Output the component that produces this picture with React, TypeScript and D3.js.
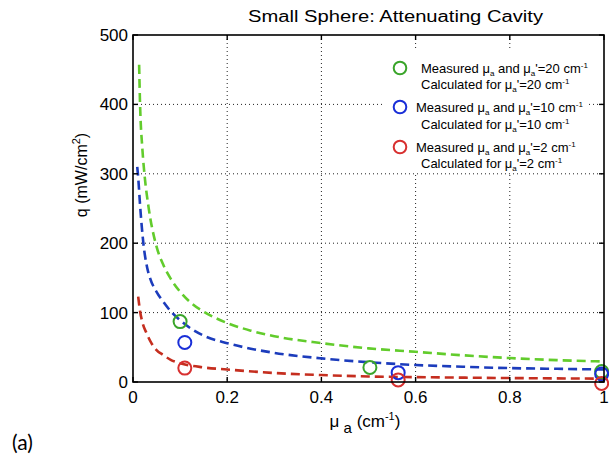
import React from "react";
import * as d3 from "d3";

// Calculated fluence curves (μa in cm⁻¹, q in mW/cm²)
const greenCurveMu = [0.013, 0.015, 0.02, 0.025, 0.033, 0.05, 0.065, 0.079, 0.1, 0.125, 0.156, 0.2, 0.25, 0.3, 0.4, 0.5, 0.6, 0.7, 0.8, 0.9, 1.0];
const greenCurveQ = [457, 400, 335, 295, 252, 195, 168, 150, 130, 113, 99, 85, 74, 66, 56, 48.5, 43.5, 38.5, 34.5, 31.5, 29.5];

const blueCurveMu = [0.009, 0.011, 0.015, 0.022, 0.03, 0.036, 0.05, 0.064, 0.08, 0.1, 0.125, 0.156, 0.2, 0.25, 0.3, 0.4, 0.5, 0.6, 0.7, 0.8, 0.9, 1.0];
const blueCurveQ = [310, 295, 255, 200, 165, 150, 130, 116, 102, 89, 76, 65, 56, 48, 42, 34, 28.5, 24.5, 22, 20, 19, 18];

const redCurveMu = [0.011, 0.015, 0.02, 0.029, 0.04, 0.05, 0.064, 0.08, 0.1, 0.15, 0.2, 0.3, 0.4, 0.5, 0.6, 0.7, 0.8, 0.9, 1.0];
const redCurveQ = [123, 102, 86, 70, 55, 46, 39, 32, 27, 21, 18, 13, 10, 8, 7, 6.3, 5.7, 5.2, 4.8];

// Measured points
const greenMeasMu = [0.1, 0.503, 0.995];
const greenMeasQ = [87, 21, 15];
const blueMeasMu = [0.11, 0.563, 0.995];
const blueMeasQ = [57, 13.5, 11.5];
const redMeasMu = [0.11, 0.563, 0.995];
const redMeasQ = [20, 3, -2];

const xTicks = [0, 0.2, 0.4, 0.6, 0.8, 1];
const yTicks = [0, 100, 200, 300, 400, 500];
const xTickLabels = ["0", "0.2", "0.4", "0.6", "0.8", "1"];
const yTickLabels = ["0", "100", "200", "300", "400", "500"];

const legendValues = ["20", "10", "2"];

const W = 609;
const H = 461;
const plot = { left: 133, right: 604, top: 35, bottom: 382 };

const x = d3.scaleLinear().domain([0, 1]).range([plot.left, plot.right]);
const y = d3.scaleLinear().domain([0, 500]).range([plot.bottom, plot.top]);

const line = d3
  .line<[number, number]>()
  .x((d) => x(d[0]))
  .y((d) => y(d[1]))
  .curve(d3.curveMonotoneX);

const zip = (a: number[], b: number[]): [number, number][] => a.map((v, i) => [v, b[i]]);

const series = [
  { mu: greenCurveMu, q: greenCurveQ, line: "#62cc2c", mmu: greenMeasMu, mq: greenMeasQ, marker: "#3aa52a" },
  { mu: blueCurveMu, q: blueCurveQ, line: "#1c3cbc", mmu: blueMeasMu, mq: blueMeasQ, marker: "#1a2fd8" },
  { mu: redCurveMu, q: redCurveQ, line: "#c52e1f", mmu: redMeasMu, mq: redMeasQ, marker: "#d83030" },
];

const font = "'Liberation Sans', Arial, Helvetica, sans-serif";

export default function App() {
  const tick = 5;
  const legendRows = [
    { cy: 68, x1: 421, b1: 73, b2: 89 },
    { cy: 107, x1: 416, b1: 112, b2: 129 },
    { cy: 147, x1: 416, b1: 152, b2: 168 },
  ];
  return (
    <svg
      width={W}
      height={H}
      style={{ position: "absolute", left: 0, top: 0, background: "#fff" }}
      fontFamily={font}
    >
      <rect x={0} y={0} width={W} height={H} fill="#fff" />

      {/* grid */}
      <g stroke="#222" strokeWidth={1} strokeDasharray="1,3">
        {xTicks.slice(1, -1).map((t) => (
          <line key={"gx" + t} x1={x(t)} x2={x(t)} y1={plot.top} y2={plot.bottom} />
        ))}
        {yTicks.slice(1, -1).map((t) => (
          <line key={"gy" + t} x1={plot.left} x2={plot.right} y1={y(t)} y2={y(t)} />
        ))}
      </g>

      {/* legend background */}
      <rect x={385} y={50} width={203} height={123} fill="#fff" />

      {/* curves */}
      {series.map((s, i) => (
        <path
          key={"c" + i}
          d={line(zip(s.mu, s.q)) || ""}
          fill="none"
          stroke={s.line}
          strokeWidth={2.6}
          strokeDasharray="9,5"
        />
      ))}

      {/* measured markers */}
      {series.map((s, i) =>
        s.mmu.map((m, j) => (
          <circle
            key={"m" + i + "-" + j}
            cx={x(m)}
            cy={y(s.mq[j])}
            r={6.5}
            fill="none"
            stroke={s.marker}
            strokeWidth={2}
          />
        ))
      )}

      {/* frame and ticks */}
      <rect
        x={plot.left}
        y={plot.top}
        width={plot.right - plot.left}
        height={plot.bottom - plot.top}
        fill="none"
        stroke="#000"
        strokeWidth={1.6}
      />
      <g stroke="#000" strokeWidth={1.4}>
        {xTicks.map((t) => (
          <g key={"tx" + t}>
            <line x1={x(t)} x2={x(t)} y1={plot.bottom} y2={plot.bottom - tick} />
            <line x1={x(t)} x2={x(t)} y1={plot.top} y2={plot.top + tick} />
          </g>
        ))}
        {yTicks.map((t) => (
          <g key={"ty" + t}>
            <line x1={plot.left} x2={plot.left + tick} y1={y(t)} y2={y(t)} />
            <line x1={plot.right} x2={plot.right - tick} y1={y(t)} y2={y(t)} />
          </g>
        ))}
      </g>

      {/* tick labels */}
      <g fontSize={17} fill="#000">
        {xTicks.map((t, i) => (
          <text key={"lx" + t} x={x(t)} y={plot.bottom + 21} textAnchor="middle">
            {xTickLabels[i]}
          </text>
        ))}
        {yTicks.map((t, i) => (
          <text key={"ly" + t} x={plot.left - 5} y={y(t) + 6} textAnchor="end">
            {yTickLabels[i]}
          </text>
        ))}
      </g>

      {/* title */}
      <text
        x={248}
        y={22}
        fontSize={16}
        textLength={295}
        lengthAdjust="spacingAndGlyphs"
        fill="#000"
      >
        Small Sphere: Attenuating Cavity
      </text>

      {/* x axis label */}
      <text x={365} y={427} fontSize={17} textAnchor="middle" fill="#000">
        μ
        <tspan fontSize={15} dy={6}> a</tspan>
        <tspan dy={-6}> (cm</tspan>
        <tspan fontSize={11} dy={-7}>-1</tspan>
        <tspan dy={7}>)</tspan>
      </text>

      {/* y axis label */}
      <text
        transform={`translate(87,175) rotate(-90)`}
        fontSize={16}
        textAnchor="middle"
        fill="#000"
      >
        q (mW/cm
        <tspan fontSize={11} dy={-7}>2</tspan>
        <tspan dy={7}>)</tspan>
      </text>

      {/* legend */}
      {legendRows.map((r, i) => (
        <g key={"lg" + i} fill="#000" fontSize={13}>
          <circle cx={400} cy={r.cy} r={6.3} fill="none" stroke={series[i].marker} strokeWidth={2} />
          <text x={r.x1} y={r.b1}>
            Measured μ
            <tspan fontSize={8} dy={3}>a</tspan>
            <tspan dy={-3}> and μ</tspan>
            <tspan fontSize={8} dy={3}>a</tspan>
            <tspan dy={-3}>'={legendValues[i]} cm</tspan>
            <tspan fontSize={8} dy={-5}>-1</tspan>
          </text>
          <text x={421} y={r.b2}>
            Calculated for μ
            <tspan fontSize={8} dy={3}>a</tspan>
            <tspan dy={-3}>'={legendValues[i]} cm</tspan>
            <tspan fontSize={8} dy={-5}>-1</tspan>
          </text>
        </g>
      ))}

      {/* panel tag */}
      <text x={12} y={450} fontSize={21} fontFamily="Lato, 'Open Sans', sans-serif" fill="#000">
        (a)
      </text>
    </svg>
  );
}
